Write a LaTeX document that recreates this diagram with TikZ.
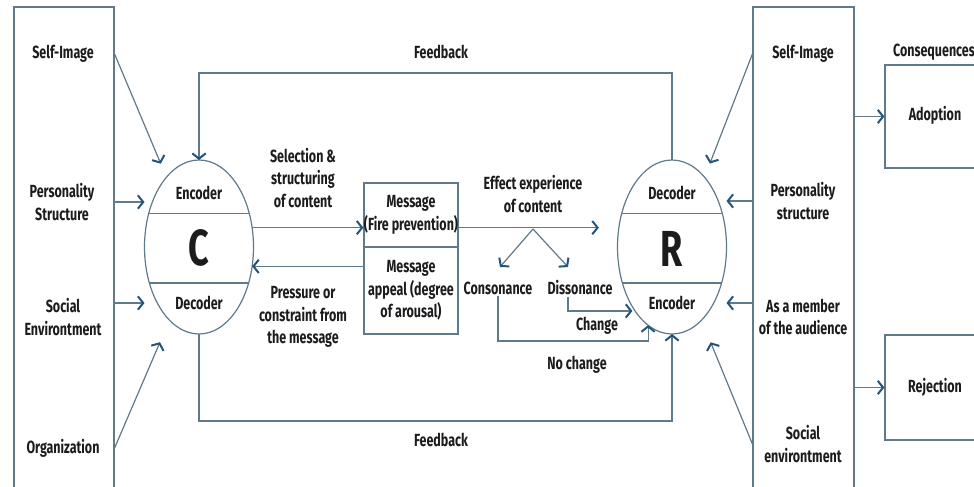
\documentclass[tikz,border=0pt]{standalone}
\usepackage{fontspec}
\setmainfont{Fira Sans}[FakeStretch=0.71]
\usepackage{tikz}
\usetikzlibrary{positioning,arrows.meta,shapes.geometric,fit}
\definecolor{LineGray}{RGB}{96,122,138}
\definecolor{TipBlue}{RGB}{36,84,122}
\definecolor{InkDark}{RGB}{28,28,28}

\begin{document}
\begin{tikzpicture}[
	x=0.75pt,
	y=-0.75pt,
	font=\bfseries\fontsize{13.2}{17}\selectfont,
	txt/.style={
		align=center,
		text=InkDark,
		inner sep=1pt
	},
	panel/.style={
		draw=LineGray,
		line width=0.9pt,
		inner sep=0pt
	},
	agent/.style={
		ellipse,
		draw=LineGray,
		line width=0.9pt,
		minimum width=81.75pt,
		minimum height=130.5pt,
		inner sep=0pt,
		outer sep=0pt
	},
	wire/.style={
		draw=LineGray,
		line width=0.9pt
	},
	link/.style={
		wire,
		-{Straight Barb[length=4pt,width=10pt,line width=1.5pt,color=TipBlue]}
	},
	bigletter/.style={
		text=InkDark,
		font=\bfseries\fontsize{38}{38}\selectfont
	}
	]
	
	\clip (0,0) rectangle (974,486);
	\fill[white] (0,0) rectangle (974,486);
	
	% side panels
	\node[panel, fit={(14,7) (114,520)}] (lpanel) {};
	\node[panel, fit={(753,7) (854,520)}] (rpanel) {};
	
	\node[txt] (lsi) at (63,54) {Self-Image};
	\node[txt] (lps) at (62,202) {Personality\\Structure};
	\node[txt] (lse) at (63,317) {Social\\Environtment};
	\node[txt] (lor) at (63,448) {Organization};
	
	\node[txt] (rsi) at (803,54) {Self-Image};
	\node[txt] (rps) at (803,201) {Personality\\structure};
	\node[txt] (rau) at (803,317) {As a member\\of the audience};
	\node[txt] (rse) at (803,444) {Social\\environtment};
	
	% communicator and recipient
	\node[agent] (C) at (199,247) {};
	\node[agent] (R) at (672,247) {};
	\draw[wire] (C.146) -- (C.34);
	\draw[wire] (C.-144) -- (C.-36);
	\draw[wire] (R.146) -- (R.34);
	\draw[wire] (R.-144) -- (R.-36);
	
	\node[txt] (cenc) at (199,193) {Encoder};
	\node[bigletter] (cbig) at (199,248) {C};
	\node[txt] (cdec) at (199,303) {Decoder};
	\node[txt] (rdec) at (672,193) {Decoder};
	\node[bigletter] (rbig) at (672,249) {R};
	\node[txt] (renc) at (672,303) {Encoder};
	
	% message box
	\node[panel, fit={(364,183) (458,247)}] (msgtop) {};
	\node[panel, fit={(364,247) (458,334)}] (msgbot) {};
	\node[txt] at (msgtop.center) {Message\\(Fire prevention)};
	\node[txt] at (msgbot.center) {Message\\appeal (degree\\of arousal)};
	
	% consequences
	\node[txt] (cons) at (934,52) {Consequences};
	\node[panel, fit={(885,65) (995,168)}] (adopt) {};
	\node[panel, fit={(885,335) (995,440)}] (reject) {};
	\node[txt] at (935,115) {Adoption};
	\node[txt] at (935,387) {Rejection};
	
	% middle labels
	\node[txt] (sel) at (303,178) {Selection \&\\structuring\\of content};
	\node[txt] (pres) at (303,317) {Pressure or\\constraint from\\the message};
	\node[txt] (eff) at (533,194) {Effect experience\\of content};
	\node[txt] (consn) at (498,288) {Consonance};
	\node[txt] (dissn) at (580,288) {Dissonance};
	\node[txt] (chg) at (597,326) {Change};
	\node[txt] (nochg) at (577,365) {No change};
	\node[txt] (fbtop) at (441,52) {Feedback};
	\node[txt] (fbbot) at (441,440) {Feedback};
	
	% influences on C
	\draw[link, shorten >=11pt] (lpanel.east |- lsi) -- (C.115);
	\draw[link] (lpanel.east |- lps) -- (C.west |- lps);
	\draw[link] (lpanel.east |- cdec) -- (C.west |- cdec);
	\draw[link, shorten >=18pt] (lpanel.east |- lor) -- (C.-112);
	
	% influences on R
	\draw[link, shorten >=11pt] (rpanel.west |- rsi) -- (R.65);
	\draw[link] (rpanel.west |- rps) -- (R.east |- rps);
	\draw[link] (rpanel.west |- renc) -- (R.east |- renc);
	\draw[link, shorten >=18pt] (rpanel.west |- rse) -- (R.-68);
	
	% message flow
	\draw[link] (C.20) -- (C.20 -| msgtop.west);
	\draw[link] (msgbot.west |- C.-20) -- (C.-20);
	\draw[link, shorten >=15pt] (msgtop.east |- R.160) -- (R.160);
	
	\coordinate (fork) at (533,229);
	\draw[link] (fork) -- ++(-33,38);
	\draw[link] (fork) -- ++(35,38);
	
	\draw[link, shorten >=2pt] ([xshift=-9pt]dissn.south) |- (R.-120);
	\draw[link] (consn.south) -- ++(0,45) -| (R.-107);
	
	% feedback loops
	\draw[link] (R.north) -- ++(0,-87) -| (C.north);
	\draw[link] (C.south) -- ++(0,87) -| (R.south);
	
	% to consequences
	\draw[link] (rpanel.east |- adopt) -- (adopt.west);
	\draw[link] (rpanel.east |- reject) -- (reject.west);
	
\end{tikzpicture}
\end{document}
